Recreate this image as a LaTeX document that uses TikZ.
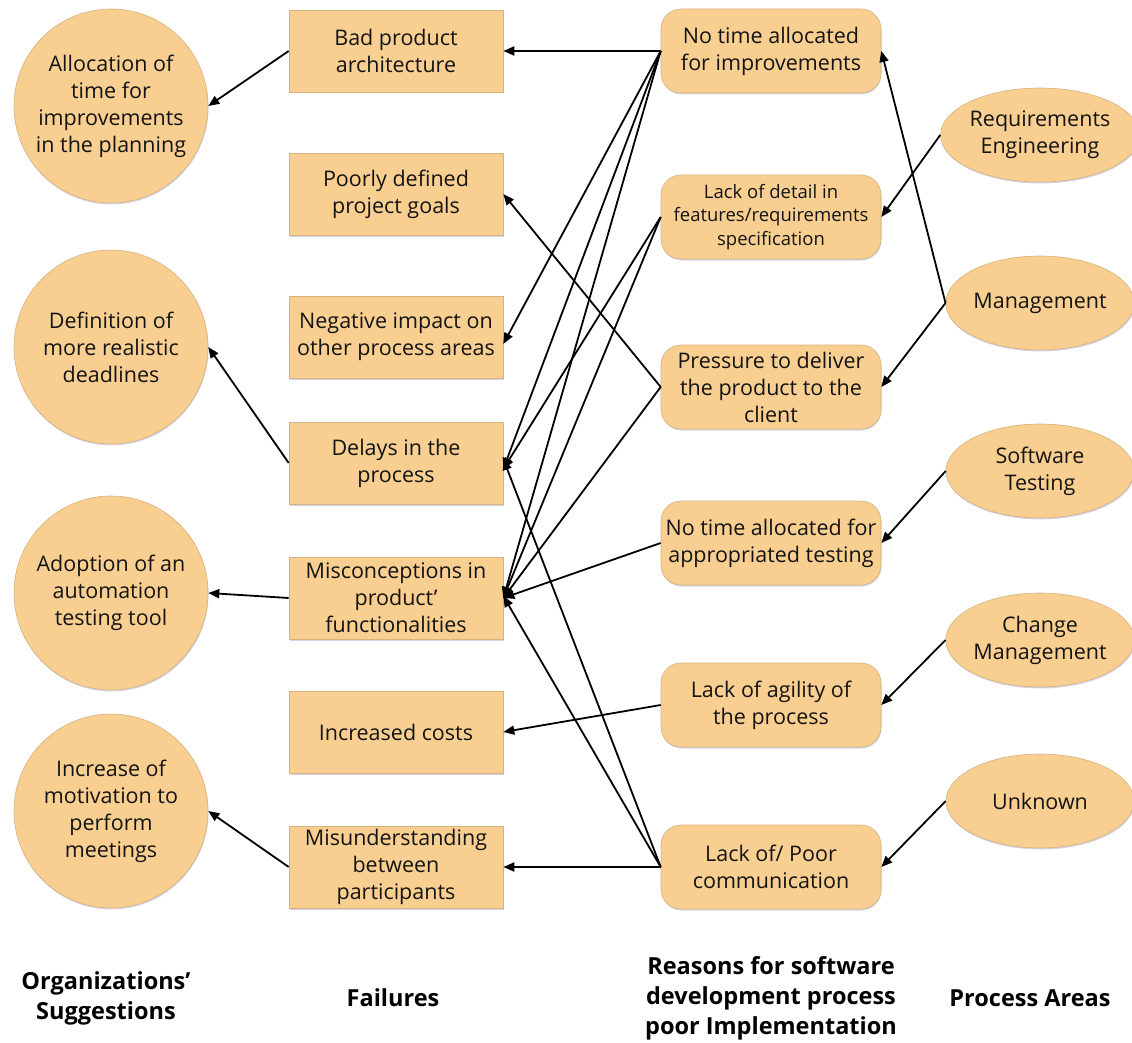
\documentclass[tikz,border=0pt]{standalone}
\usepackage{fontspec}
\setmainfont{Open Sans}
\usetikzlibrary{arrows.meta,shapes.geometric,shadows}
\definecolor{boxfill}{HTML}{F8CF91}
\definecolor{boxline}{HTML}{D6B27E}
\definecolor{txt}{HTML}{141414}
\tikzset{
  base/.style={fill=boxfill, draw=boxline, line width=0.6pt, text=txt, align=center, inner sep=0pt,
    font=\fontsize{21.5}{27}\selectfont,
    drop shadow={shadow xshift=0.5pt, shadow yshift=-1.5pt, fill=blue!30!gray, opacity=0.25}},
  sugg/.style={base, circle, minimum size=194pt},
  fail/.style={base, rectangle, minimum width=214pt, minimum height=82pt},
  reason/.style={base, rectangle, rounded corners=20pt, minimum width=220pt, minimum height=84pt},
  area/.style={base, ellipse, minimum width=188pt, minimum height=94pt},
  arr/.style={-{Triangle[length=11pt,width=9pt]}, line width=1.8pt, black},
  header/.style={text=black, align=center, font=\bfseries\fontsize{23.5}{30}\selectfont}
}
\begin{document}
\begin{tikzpicture}[x=1pt,y=-1pt]
\useasboundingbox (0,0) rectangle (1132,1043);
% suggestions
\node[sugg] (c1) at (111,106) {Allocation of\\time for\\improvements\\in the planning};
\node[sugg] (c2) at (111,347) {Definition of\\more realistic\\deadlines};
\node[sugg] (c3) at (111,593) {Adoption of an\\automation\\testing tool};
\node[sugg] (c4) at (111,811) {Increase of\\motivation to\\perform\\meetings};
% failures
\node[fail] (f1) at (396,51) {Bad product\\architecture};
\node[fail] (f2) at (396,194) {Poorly defined\\project goals};
\node[fail] (f3) at (396,337) {Negative impact on\\other process areas};
\node[fail] (f4) at (396,463) {Delays in the\\process};
\node[fail] (f5) at (396,598) {Misconceptions in\\product'\\functionalities};
\node[fail] (f6) at (396,732) {Increased costs};
\node[fail] (f7) at (396,867) {Misunderstanding\\between\\participants};
% reasons
\node[reason] (r1) at (771,51) {No time allocated\\for improvements};
\node[reason, font=\fontsize{18.5}{23.5}\selectfont] (r2) at (771,217) {Lack of detail in\\features/requirements\\specification};
\node[reason] (r3) at (771,387) {Pressure to deliver\\the product to the\\client};
\node[reason] (r4) at (771,543) {No time allocated for\\appropriated testing};
\node[reason] (r5) at (771,705) {Lack of agility of\\the process};
\node[reason] (r6) at (771,867) {Lack of/ Poor\\communication};
% process areas
\node[area] (p1) at (1040,135) {Requirements\\Engineering};
\node[area] (p2) at (1040,303) {Management};
\node[area] (p3) at (1040,471) {Software\\Testing};
\node[area] (p4) at (1040,640) {Change\\Management};
\node[area] (p5) at (1040,801) {Unknown};
% headers
\node[header] (h1) at (106,998) {Organizations'\\Suggestions};
\node[header] (h2) at (393,998) {Failures};
\node[header] (h3) at (771,998) {Reasons for software\\development process\\poor Implementation};
\node[header] (h4) at (1030,998) {Process Areas};
% process areas -> reasons
\draw[arr] (p1.west) -- (r2.east);
\draw[arr] (p2.west) -- (r1.east);
\draw[arr] (p2.west) -- (r3.east);
\draw[arr] (p3.west) -- (r4.east);
\draw[arr] (p4.west) -- (r5.east);
\draw[arr] (p5.west) -- (r6.east);
% reasons -> failures
\draw[arr] (r1.west) -- (f1.east);
\draw[arr] (r1.west) -- ([yshift=-7pt]f3.east);
\draw[arr] (r1.west) -- ([yshift=-6pt]f4.east);
\draw[arr] (r1.west) -- (f5.east);
\draw[arr] (r2.west) -- ([yshift=-6pt]f4.east);
\draw[arr] (r2.west) -- (f5.east);
\draw[arr] (r3.west) -- (f2.east);
\draw[arr] (r3.west) -- (f5.east);
\draw[arr] (r4.west) -- (f5.east);
\draw[arr] (r5.west) -- (f6.east);
\draw[arr] (r6.west) -- (f7.east);
\draw[arr] (r6.west) -- ([yshift=2pt]f5.east);
\draw[arr] (r6.west) -- ([yshift=4pt]f4.east);
% failures -> suggestions
\draw[arr] (f1.west) -- (c1.east);
\draw[arr] (f4.west) -- (c2.east);
\draw[arr] (f5.west) -- (c3.east);
\draw[arr] (f7.west) -- (c4.east);
\end{tikzpicture}
\end{document}
